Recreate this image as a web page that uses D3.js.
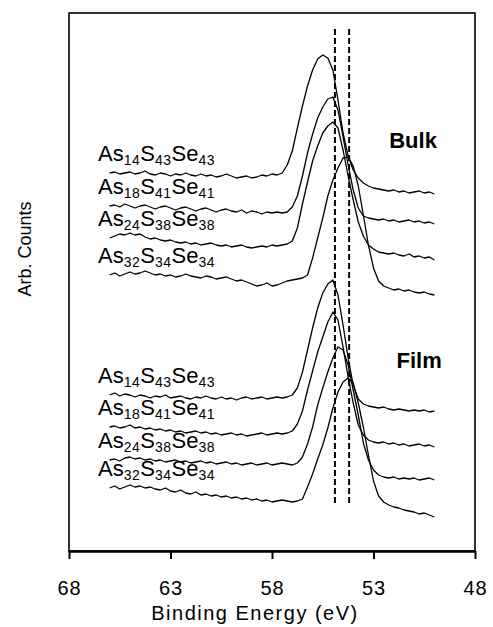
<!DOCTYPE html>
<html>
<head>
<meta charset="utf-8">
<script src="https://cdn.jsdelivr.net/npm/d3@7"></script>
<style>
body { margin: 0; background: #fff; }
svg { display: block; font-family: "Liberation Sans", Arial, sans-serif; }
</style>
</head>
<body>
<svg id="grafico"></svg>
<script>
// binding energy grid (eV), 0.25 eV steps, same for every spectrum
const energias = [66.00, 65.75, 65.50, 65.25, 65.00, 64.75, 64.50, 64.25, 64.00, 63.75,
    63.50, 63.25, 63.00, 62.75, 62.50, 62.25, 62.00, 61.75, 61.50, 61.25,
    61.00, 60.75, 60.50, 60.25, 60.00, 59.75, 59.50, 59.25, 59.00, 58.75,
    58.50, 58.25, 58.00, 57.75, 57.50, 57.25, 57.00, 56.75, 56.50, 56.25,
    56.00, 55.75, 55.50, 55.25, 55.00, 54.75, 54.50, 54.25, 54.00, 53.75,
    53.50, 53.25, 53.00, 52.75, 52.50, 52.25, 52.00, 51.75, 51.50, 51.25,
    51.00, 50.75, 50.50, 50.25, 50.00]

// counts above each trace's own floor (arb. units)
const bulk14 = [20,21,19,20,21,19,20,22,19,18,20,19,17,19,18,20,18,17,19,17,18,16,17,19,17,15,16,17,15,16,18,17,19,18,
    20,28,42,65,87,107,123,134,138,135,123,93,60,37,23,15,10,7,5,4,3,2,3,1,2,0,1,2,0,1,-1]
const bulk18 = [17,18,16,19,17,15,17,18,16,14,16,17,15,13,15,16,14,12,14,15,13,11,13,14,12,11,13,10,12,11,9,11,10,11,
    10,11,16,27,47,70,89,105,116,124,126,113,86,58,33,15,7,5,4,3,4,2,3,1,2,3,1,2,0,1,-1]
const bulk24 = [22,24,26,25,27,25,26,23,21,22,20,19,20,18,17,18,16,17,15,16,17,15,14,15,13,14,15,13,12,13,14,13,15,14,
    15,16,19,32,56,78,99,114,127,134,138,132,110,84,60,38,24,15,11,8,7,6,7,5,4,6,3,4,2,3,0]
const bulk32 = [20,22,19,21,23,21,22,24,22,20,21,19,20,18,19,21,19,18,17,19,18,16,17,18,16,14,15,13,11,9,10,12,9,10,
    12,14,15,16,17,20,37,57,77,99,115,127,137,138,129,109,80,50,27,14,9,7,5,6,4,5,3,2,3,1,0]

const film14 = [17,19,16,18,17,15,17,16,14,16,15,17,14,15,16,14,13,15,14,16,14,13,15,13,14,12,14,15,13,14,15,13,14,15,
    14,15,17,24,40,62,84,104,119,128,132,117,87,54,27,13,8,6,5,4,5,3,2,3,2,1,2,1,2,0,1]
const film18 = [20,21,19,20,22,19,20,18,19,17,18,16,17,15,16,14,15,16,14,15,13,14,12,13,14,12,13,11,12,13,14,12,13,14,
    13,14,16,23,36,57,76,95,110,125,135,127,100,70,44,22,12,7,5,4,5,3,4,2,3,1,2,3,1,2,0]
const film24 = [20,21,19,22,23,21,22,20,21,19,20,18,19,20,18,19,17,18,19,17,18,16,17,18,16,17,15,16,17,15,16,17,15,16,
    17,16,15,17,23,36,53,75,92,108,122,133,130,115,90,65,37,20,10,5,3,2,3,1,2,1,2,0,1,2,0]
const film32 = [29,31,28,30,32,30,31,29,30,28,27,29,26,25,27,24,23,25,22,23,21,22,20,21,19,20,18,19,17,18,16,17,15,16,
    17,16,15,16,18,30,43,58,72,89,109,125,135,139,134,114,90,62,36,21,15,12,10,9,7,6,5,3,4,2,0]

// vertical stacking offsets
const offsetsBulk = [358, 328, 291, 256]
const offsetsFilm = [139, 104, 71, 34]

// composition subscripts As_x S_y Se_z
const subAs = ["14", "18", "24", "32"]
const subS = ["43", "41", "38", "34"]
const subSe = ["43", "41", "38", "34"]

// set names + where they sit (energy, counts)
const conjuntos = ["Bulk", "Film"]
const conjuntoE = [51.05, 50.75]
const conjuntoY = [403, 183]

const ticksX = [68, 63, 58, 53, 48]
// dashed reference lines (eV) and their vertical extent (counts)
const linhasRef = [54.9, 54.2]
const linhaRefSpan = [48, 524]

const width = 493
const height = 627
const margem = {top: 13, right: 18, bottom: 76, left: 69}

var svg = d3.select("#grafico")
    .attr("width", width)
    .attr("height", height)

var x = d3.scaleLinear()
    .domain([68, 48])
    .range([margem.left, width - margem.right])

var y = d3.scaleLinear()
    .domain([0, 538])
    .range([height - margem.bottom, margem.top])

// frame
svg.append("rect")
    .attr("x", margem.left)
    .attr("y", margem.top)
    .attr("width", width - margem.left - margem.right)
    .attr("height", height - margem.top - margem.bottom)
    .attr("fill", "none")
    .attr("stroke", "#000")
    .attr("stroke-width", 1.6)

// x axis
var eixoX = svg.append("g")
    .attr("transform", "translate(0," + (height - margem.bottom) + ")")
    .call(d3.axisBottom(x).tickValues(ticksX).tickSize(8).tickPadding(22).tickSizeOuter(0))

eixoX.select(".domain").attr("stroke-width", 2.6)
eixoX.selectAll(".tick line").attr("stroke-width", 2)
eixoX.selectAll(".tick text")
    .style("font-size", "20px")
    .style("letter-spacing", "1px")
    .attr("fill", "#000")
    .attr("font-family", "Liberation Sans, Arial, sans-serif")

svg.append("text")
    .attr("x", (margem.left + width - margem.right) / 2 - 17)
    .attr("y", 620)
    .attr("text-anchor", "middle")
    .style("font-size", "20px")
    .style("letter-spacing", "1.5px")
    .text("Binding Energy (eV)")

svg.append("text")
    .attr("transform", "translate(31," + 249 + ") rotate(-90)")
    .attr("text-anchor", "middle")
    .style("font-size", "18px")
    .text("Arb. Counts")

// spectra
var series = [
    {dados: bulk14, off: offsetsBulk[0], k: 0},
    {dados: bulk18, off: offsetsBulk[1], k: 1},
    {dados: bulk24, off: offsetsBulk[2], k: 2},
    {dados: bulk32, off: offsetsBulk[3], k: 3},
    {dados: film14, off: offsetsFilm[0], k: 0},
    {dados: film18, off: offsetsFilm[1], k: 1},
    {dados: film24, off: offsetsFilm[2], k: 2},
    {dados: film32, off: offsetsFilm[3], k: 3}
]

// labels first, traces go over them like in the paper
series.forEach(function(s) {
    var t = svg.append("text")
        .attr("x", 98)
        .attr("y", y(s.off + s.dados[0]) - 12)
        .style("font-size", "22px")
    t.append("tspan").text("As")
    t.append("tspan").attr("dy", 4).style("font-size", "14px").style("letter-spacing", "0.5px").text(subAs[s.k])
    t.append("tspan").attr("dy", -4).text("S")
    t.append("tspan").attr("dy", 4).style("font-size", "14px").style("letter-spacing", "0.5px").text(subS[s.k])
    t.append("tspan").attr("dy", -4).text("Se")
    t.append("tspan").attr("dy", 4).style("font-size", "14px").style("letter-spacing", "0.5px").text(subSe[s.k])
})

var linha = d3.line()
    .x((d, i) => x(energias[i]))
    .y(d => y(d))

svg.append("g")
    .selectAll("path")
    .data(series)
    .join("path")
    .attr("d", s => linha(s.dados.map(v => v + s.off)))
    .attr("fill", "none")
    .attr("stroke", "#000")
    .attr("stroke-width", 1.3)
    .attr("stroke-linejoin", "round")

// dashed reference lines
svg.append("g")
    .selectAll("line")
    .data(linhasRef)
    .join("line")
    .attr("x1", d => x(d))
    .attr("x2", d => x(d))
    .attr("y1", y(linhaRefSpan[0]))
    .attr("y2", y(linhaRefSpan[1]))
    .attr("stroke", "#000")
    .attr("stroke-width", 2)
    .attr("stroke-dasharray", "6,3")

// Bulk / Film tags
svg.append("g")
    .selectAll("text")
    .data(conjuntos)
    .join("text")
    .attr("x", (d, i) => x(conjuntoE[i]))
    .attr("y", (d, i) => y(conjuntoY[i]))
    .attr("text-anchor", "middle")
    .style("font-size", "22px")
    .style("font-weight", "bold")
    .text(d => d)
</script>
</body>
</html>
